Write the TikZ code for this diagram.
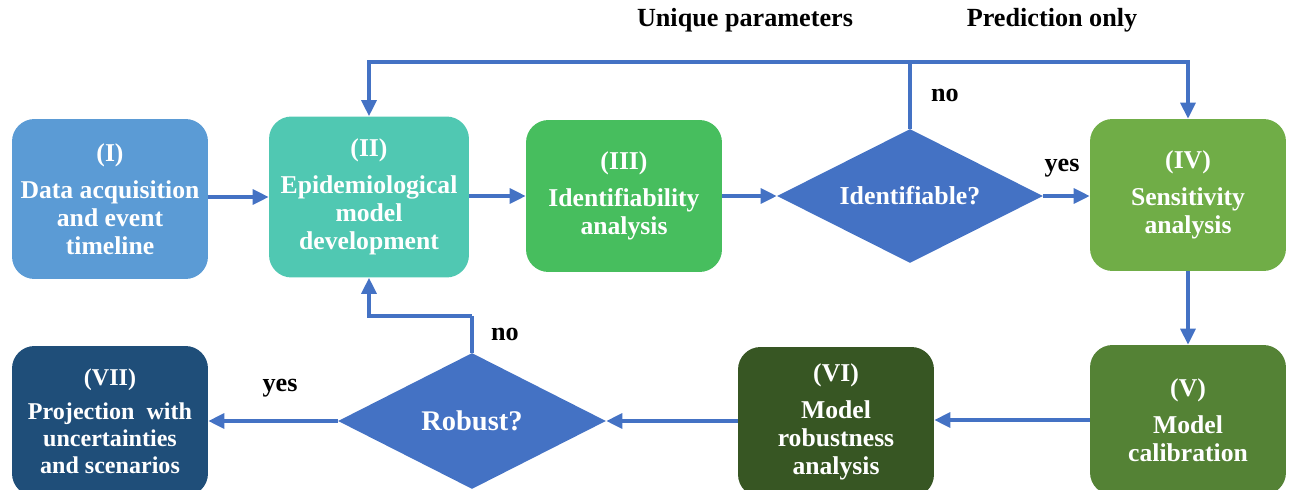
\documentclass[tikz,border=0pt]{standalone}
\usepackage{fontspec}
\setmainfont{Liberation Serif}
\usetikzlibrary{shapes.geometric,arrows.meta}

\definecolor{stepone}{HTML}{5B9BD5}
\definecolor{steptwo}{HTML}{50C8B2}
\definecolor{stepthree}{HTML}{47BE5E}
\definecolor{stepfour}{HTML}{70AD47}
\definecolor{stepfive}{HTML}{548235}
\definecolor{stepsix}{HTML}{375623}
\definecolor{stepseven}{HTML}{1F4E79}
\definecolor{decblue}{HTML}{4472C4}

\tikzstyle{box}=[rectangle,rounded corners=0.45cm,text=white,align=center,font=\bfseries\fontsize{14.6}{16}\selectfont,minimum width=3.92cm]
\tikzstyle{decide}=[diamond,aspect=2,fill=decblue,text=white,font=\bfseries\fontsize{14.7}{16}\selectfont,inner sep=0pt]
\tikzstyle{flow}=[draw=decblue,line width=1.8pt,-{Triangle[length=0.32cm,width=0.3cm]}]
\tikzstyle{lbl}=[font=\bfseries\fontsize{14.9}{17}\selectfont]

\newcommand\Step[6]{
  \node[box,fill=#4,minimum height=#5cm] (#1) at (#2,#3) {#6};
}

\begin{document}
\begin{tikzpicture}[x=0.02cm,y=-0.02cm]
  \useasboundingbox (0,0) rectangle (1291,490);
  \clip (0,0) rectangle (1291,490);

  \Step{sone}{110}{199}{stepone}{3.2}{(I)\\[5pt]Data acquisition\\and event\\timeline}
  \node[box,fill=steptwo,minimum width=4cm,minimum height=3.22cm] (stwo) at (369,197) {(II)\\[5pt]Epidemiological\\model\\development};
  \Step{sthree}{624}{196}{stepthree}{3.04}{(III)\\[5pt]Identifiability\\analysis}
  \node[decide,minimum width=5.32cm,minimum height=2.68cm] (ident) at (910,196) {Identifiable?};
  \Step{sfour}{1188}{195}{stepfour}{3.04}{(IV)\\[5pt]Sensitivity\\analysis}

  \Step{sfive}{1188}{420}{stepfive}{3.0}{(V)\\[5pt]Model\\calibration}
  \Step{ssix}{836}{422}{stepsix}{3.0}{(VI)\\[5pt]Model\\robustness\\analysis}
  \node[decide,minimum width=5.36cm,minimum height=2.72cm,font=\bfseries\fontsize{16.2}{18}\selectfont] (robust) at (472,421) {Robust?};
  \node[box,fill=stepseven,minimum height=3.0cm,font=\bfseries\fontsize{13.7}{15.3}\selectfont] (sseven) at (110,421) {(VII)\\[4pt]Projection~ with\\uncertainties\\and scenarios};

  \coordinate (split) at (910,62);
  \coordinate (back) at (472,316);

  \draw[flow] (sone.east |- stwo) -- (stwo.west);
  \draw[flow] (stwo.east |- sthree) -- (sthree.west);
  \draw[flow] (sthree.east |- ident) -- (ident.west);
  \draw[flow] (ident.east) -- (sfour.west |- ident.east);
  \draw[draw=decblue,line width=1.8pt] (ident.north) -- (split);
  \draw[flow] (split) -| (stwo.north);
  \draw[flow] (split) -| (sfour.north);
  \draw[flow] (sfour) -- (sfive);
  \draw[flow] (sfive.west) -- (ssix.east |- sfive.west);
  \draw[flow] (ssix.west |- robust) -- (robust.east);
  \draw[flow] (robust.west) -- (sseven.east |- robust.west);
  \draw[draw=decblue,line width=1.8pt] (robust.north) -- (back);
  \draw[flow] (back) -| (stwo.south);

  \node[lbl] (uniq) at (745,20) {Unique parameters};
  \node[lbl] (pred) at (1052,20) {Prediction only};
  \node[lbl] (noone) at (945,95) {no};
  \node[lbl] (yesone) at (1062,168) {yes};
  \node[lbl] (notwo) at (505,334) {no};
  \node[lbl] (yestwo) at (280,388) {yes};
\end{tikzpicture}
\end{document}
